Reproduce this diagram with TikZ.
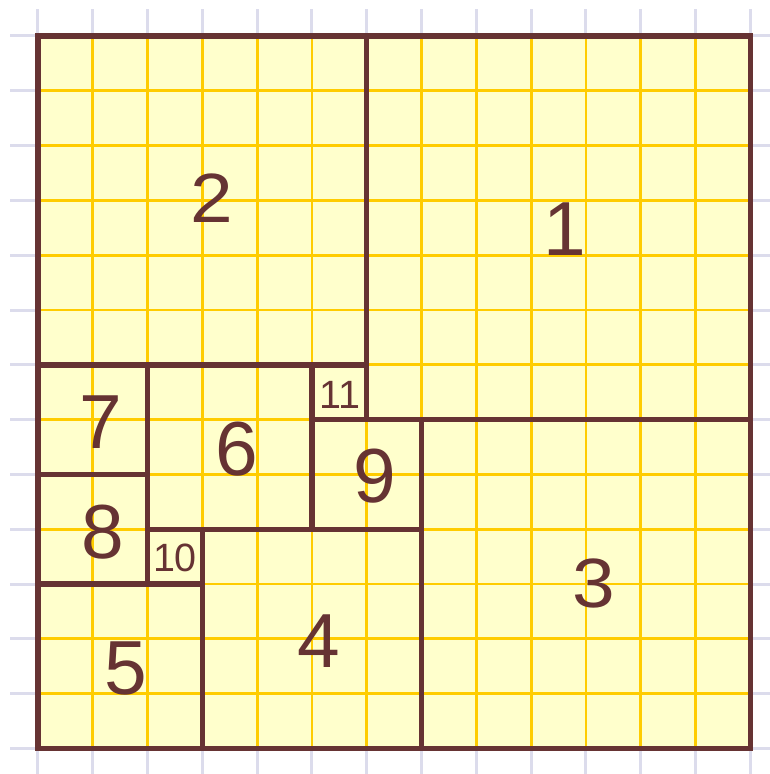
\documentclass[tikz,border=0pt]{standalone}
\usepackage{fontspec}
\setmainfont{Liberation Sans}
\definecolor{sqbrown}{HTML}{663333}
\definecolor{sqfill}{HTML}{FFFFCC}
\definecolor{sqgrid}{HTML}{FFCC00}
\definecolor{lavgrid}{HTML}{DCDCEC}
\tikzset{
  lav/.style={draw=lavgrid, line width=1.56pt},
  ygrid/.style={draw=sqgrid, line width=1.4pt},
  sq/.style={draw=sqbrown, line width=2.8pt, line join=miter},
  big/.style={text=sqbrown, inner sep=0pt, font=\fontsize{39.8}{40}\selectfont},
  small/.style={text=sqbrown, inner sep=0pt, font=\fontsize{20.5}{21}\selectfont}
}
\begin{document}
\begin{tikzpicture}[x=1cm,y=-1cm]
\clip (-0.693,-0.657) rectangle (13.357,13.467);
\fill[white] (-0.693,-0.657) rectangle (13.357,13.467);
% lavender background grid
\foreach \i in {0,...,13} {
  \draw[lav] (-0.51,\i) -- (13.6,\i);
  \draw[lav] (\i,-0.49) -- (\i,13.6);
}
% yellow square with gold grid
\fill[sqfill] (0,0) rectangle (13,13);
\foreach \i in {1,...,12} {
  \draw[ygrid] (0,\i) -- (13,\i);
  \draw[ygrid] (\i,0) -- (\i,13);
}
% squares
\draw[sq] (6,0) rectangle (13,7);
\draw[sq] (0,0) rectangle (6,6);
\draw[sq] (7,7) rectangle (13,13);
\draw[sq] (3,9) rectangle (7,13);
\draw[sq] (0,10) rectangle (3,13);
\draw[sq] (2,6) rectangle (5,9);
\draw[sq] (0,6) rectangle (2,8);
\draw[sq] (0,8) rectangle (2,10);
\draw[sq] (5,7) rectangle (7,9);
\draw[sq] (2,9) rectangle (3,10);
\draw[sq] (5,6) rectangle (6,7);
\draw[sq] (0,0) rectangle (13,13);
% labels
\node[big] (n1) at (9.62,3.52) {1};
\node[big] (n2) at (3.18,2.96) {\scalebox{1}[0.91]{2}};
\node[big] (n3) at (10.14,9.99) {\scalebox{1}[0.91]{3}};
\node[big] (n4) at (5.13,11.04) {4};
\node[big] (n5) at (1.60,11.55) {5};
\node[big] (n6) at (3.62,7.54) {6};
\node[big] (n7) at (1.15,7.04) {7};
\node[big] (n8) at (1.18,9.05) {8};
\node[big] (n9) at (6.14,8.03) {9};
\node[small] (n10) at (2.50,9.53) {10};
\node[small] (n11) at (5.51,6.55) {11};
\end{tikzpicture}
\end{document}
